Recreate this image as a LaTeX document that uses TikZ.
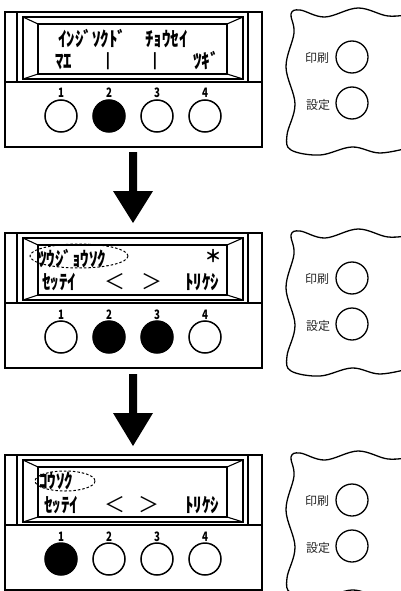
\documentclass[tikz,border=0pt]{standalone}
\usepackage{fontspec}
\newfontfamily\jp{Noto Sans CJK JP}
\newcommand\kt[1]{\scalebox{0.85}[1]{#1}}
\newcommand\dg[1]{\scalebox{0.75}[1]{#1}}
\newcommand\lcdpanel[5]{%
  \draw[frame] (5,12) rectangle (262,147);
  \draw[frame] (5,82) -- (262,82);
  \draw[thinln] (17,12) -- (17,82) (248,12) -- (248,82);
  \draw[thinln] (23,17) rectangle (243,79);
  \draw[thinln] (38,24) rectangle (227,74);
  \draw[thinln] (23,17) -- (38,24) (243,17) -- (227,24) (23,79) -- (38,74) (243,79) -- (227,74);
  \node[btn, fill=#2] (#1b1) at (61,116) {};
  \node[btn, fill=#3] (#1b2) at (109,116) {};
  \node[btn, fill=#4] (#1b3) at (157,116) {};
  \node[btn, fill=#5] (#1b4) at (205,116) {};
  \node[num] (#1n1) at (61,98) {\dg{1}};
  \node[num] (#1n2) at (109,98) {\dg{2}};
  \node[num] (#1n3) at (157,98) {\dg{3}};
  \node[num] (#1n4) at (205,98) {\dg{4}};
}
\newcommand\sidepanel[1]{%
  \draw[wavy] plot[smooth, tension=0.6] coordinates {(412,14) (388,16) (358,8) (325,17) (300,10) (291,14) (294,33) (286,67) (295,104) (287,135) (291,150) (320,155) (352,147) (380,153) (412,147)};
  \node[lab] (#1print) at (317,58) {印刷};
  \node[btn, line width=1.3pt] (#1pc) at (352,57) {};
  \node[lab] (#1set) at (318,105) {設定};
  \node[btn, line width=1.3pt] (#1sc) at (352,103) {};
}
\begin{document}
\begin{tikzpicture}[x=1pt,y=-1pt,
  frame/.style={line width=1.6pt},
  thinln/.style={line width=1.1pt},
  wavy/.style={line width=1.3pt},
  btn/.style={circle, draw, line width=1.5pt, minimum size=32pt, inner sep=0pt},
  lcd/.style={font=\jp\bfseries\fontsize{20}{20}\selectfont, inner sep=0pt, anchor=base west},
  bar/.style={font=\jp\bfseries\fontsize{15}{15}\selectfont, inner sep=0pt, anchor=base},
  arr/.style={font=\jp\fontsize{21}{21}\selectfont, inner sep=0pt, anchor=base},
  num/.style={font=\jp\bfseries\fontsize{13}{13}\selectfont, inner sep=0pt, anchor=base},
  lab/.style={font=\jp\fontsize{12}{12}\selectfont, inner sep=0pt, text=black!85},
  sel/.style={dash pattern=on 2.5pt off 2pt, line width=1pt},
  bigarrow/.style={fill=black}]
\useasboundingbox (0,0) rectangle (401,591);
\clip (0,0) rectangle (401,591);
% panel 1
\begin{scope}
  \lcdpanel{a}{white}{black}{white}{white}
  \sidepanel{a}
  \node[lcd] (a1) at (58,47) {\kt{ｲﾝｼﾞｿｸﾄﾞ}};
  \node[lcd] (a2) at (145,47) {\kt{ﾁｮｳｾｲ}};
  \node[lcd] (a3) at (55,69) {\kt{ﾏｴ}};
  \node[bar] (a4) at (108,66) {|};
  \node[bar] (a5) at (155,66) {|};
  \node[lcd] (a6) at (193,69) {\kt{ﾂｷﾞ}};
\end{scope}
% arrow 1
\fill[bigarrow] (129,152) -- (137,152) -- (137,191) -- (153,191) -- (133,223) -- (113,191) -- (129,191) -- cycle;
% panel 2
\begin{scope}[shift={(0,221)}]
  \lcdpanel{b}{white}{black}{black}{white}
  \sidepanel{b}
  \node[lcd] (b1) at (38,45) {\kt{ﾂｳｼﾞｮｳｿｸ}};
  \node[font=\jp\bfseries\fontsize{17}{17}\selectfont, inner sep=0pt] (b2) at (213,35) {＊};
  \draw[sel] (79,35) ellipse [x radius=49, y radius=12];
  \node[lcd] (b3) at (42,68) {\kt{ｾｯﾃｲ}};
  \node[arr] (b4) at (115,68) {＜};
  \node[arr] (b5) at (152,68) {＞};
  \node[lcd] (b6) at (185,68) {\kt{ﾄﾘｹｼ}};
\end{scope}
% arrow 2
\fill[bigarrow] (129,374) -- (137,374) -- (137,413) -- (153,413) -- (133,446) -- (113,413) -- (129,413) -- cycle;
% panel 3
\begin{scope}[shift={(0,443)}]
  \lcdpanel{c}{black}{white}{white}{white}
  \sidepanel{c}
  \node[lcd] (c1) at (39,45) {\kt{ｺｳｿｸ}};
  \draw[sel] (65,38) ellipse [x radius=30, y radius=10];
  \node[lcd] (c3) at (44,69) {\kt{ｾｯﾃｲ}};
  \node[arr] (c4) at (115,69) {＜};
  \node[arr] (c5) at (149,69) {＞};
  \node[lcd] (c6) at (185,69) {\kt{ﾄﾘｹｼ}};
\end{scope}
\end{tikzpicture}
\end{document}
